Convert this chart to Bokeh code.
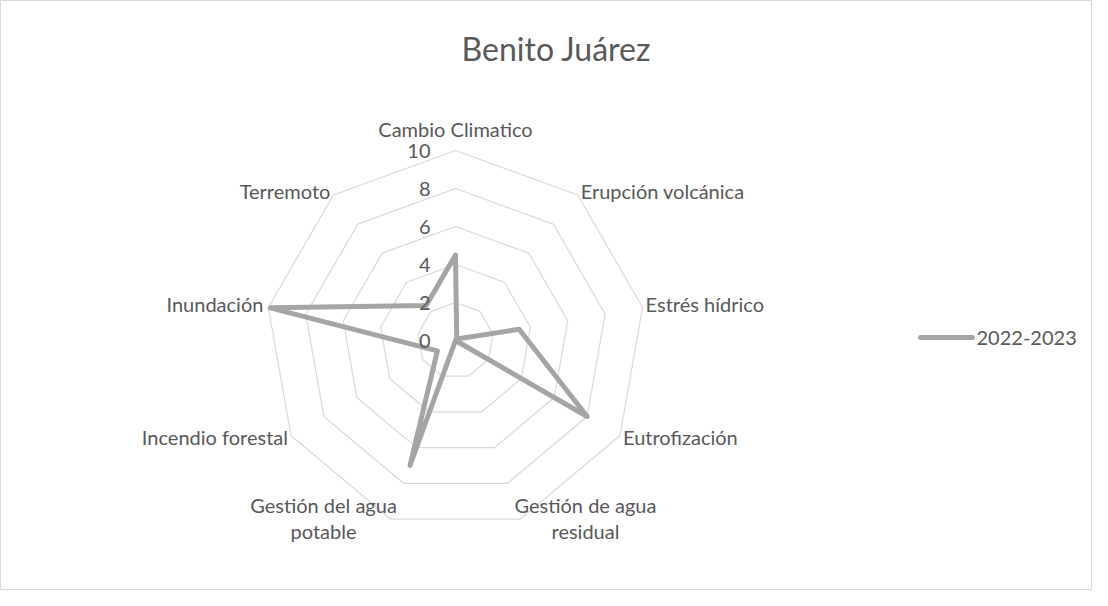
import math
from bokeh.plotting import figure
from bokeh.models import Range1d
from bokeh.core.properties import value
from bokeh.embed import file_html
from bokeh.resources import INLINE

# ---- data ----
title_text = "Benito Juárez"
categories = ["Cambio Climatico", "Erupción volcánica", "Estrés hídrico", "Eutrofización",
              "Gestión de agua\nresidual", "Gestión del agua\npotable", "Incendio forestal",
              "Inundación", "Terremoto"]
series_name = "2022-2023"
values_2022_2023 = [4.5, 0.1, 3.4, 8.0, 0.0, 7.0, 1.1, 9.9, 2.4]
ticks = [0, 2, 4, 6, 8, 10]

# ---- layout ----
W, H = 1092, 590
S = 19.0            # pixels per unit
CX, CY = 455, 340   # centre in figure pixels
FONT = "Lato"
TXT = "#595959"

def px(fx, fy):
    return (fx - CX) / S, (CY - fy) / S

p = figure(width=W, height=H, output_backend="svg", toolbar_location=None,
           x_range=Range1d(-CX / S, (W - CX) / S), y_range=Range1d(-(H - CY) / S, CY / S),
           min_border=0)
p.axis.visible = False
p.grid.visible = False
p.outline_line_color = "#d9d9d9"
p.outline_line_width = 1
p.background_fill_color = "white"
p.border_fill_color = "white"

n = len(categories)
ang = [2 * math.pi * i / n for i in range(n)]

# grid rings
rmax = max(ticks)
for t in ticks[1:]:
    xs = [t * math.sin(a) for a in ang] + [t * math.sin(ang[0])]
    ys = [t * math.cos(a) for a in ang] + [t * math.cos(ang[0])]
    p.line(xs, ys, line_color="#d9d9d9", line_width=1.2)

# data polygon
dx = [v * math.sin(a) for v, a in zip(values_2022_2023, ang)]
dy = [v * math.cos(a) for v, a in zip(values_2022_2023, ang)]
p.line(dx + [dx[0]], dy + [dy[0]], line_color="#a5a5a5", line_width=5,
       line_join="round", line_cap="round")

# tick labels
p.text(x=[-25 / S] * len(ticks), y=ticks, text=[str(t) for t in ticks],
       text_align="right", text_baseline="middle", text_font=value(FONT),
       text_font_size="20px", text_color=TXT)

# category labels: (dx px, dy px, align) offsets from outer vertex
offs = [(0, -22, "center"), (3, -4, "left"), (3, -4, "left"), (3, 1, "left"),
        (65, -1, "center"), (-67, -1, "center"), (-3, 1, "right"), (-5, -4, "right"),
        (-3, -4, "right")]
for c, a, (ox, oy, al) in zip(categories, ang, offs):
    vx = CX + rmax * S * math.sin(a) + ox
    vy = CY - rmax * S * math.cos(a) + oy
    x, y = px(vx, vy)
    p.text(x=[x], y=[y], text=[c], text_align=al, text_baseline="middle",
           text_font=value(FONT), text_font_size="20px", text_color=TXT,
           text_line_height=1.12)

# title
tx, ty = px(556, 48)
p.text(x=[tx], y=[ty], text=[title_text], text_align="center", text_baseline="middle",
       text_font=value(FONT), text_font_size="32px", text_color=TXT)

# legend
lx0, ly = px(920, 337)
lx1, _ = px(972, 337)
p.line([lx0, lx1], [ly, ly], line_color="#a5a5a5", line_width=5, line_cap="round")
ltx, _ = px(976, 337)
p.text(x=[ltx], y=[ly], text=[series_name], text_align="left", text_baseline="middle",
       text_font=value(FONT), text_font_size="20px", text_color=TXT)

open("out.html", "w").write(file_html(p, INLINE))
